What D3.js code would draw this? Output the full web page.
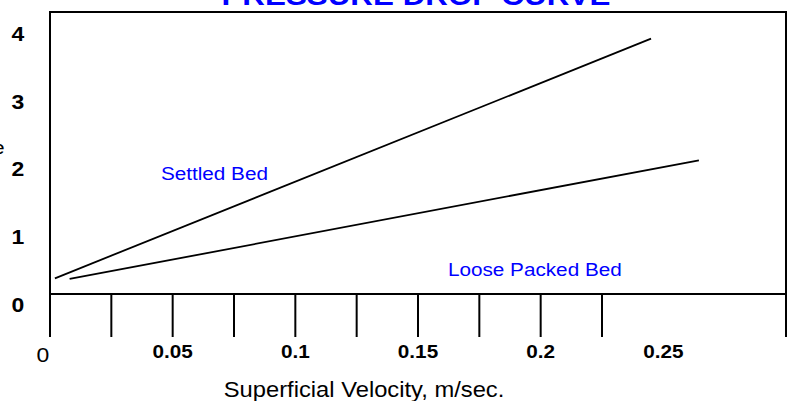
<!DOCTYPE html>
<html>
<head>
<meta charset="utf-8">
<script src="https://cdn.jsdelivr.net/npm/d3@7"></script>
<style>
  body { margin: 0; background: #fff; }
  svg { display: block; font-family: "Liberation Sans", Arial, sans-serif; }
</style>
</head>
<body>
<div id="chart"></div>
<script>
// chart data
const settledBed = [{ v: 0.002, dp: 0.231 }, { v: 0.245, dp: 3.757 }];
const loosePackedBed = [{ v: 0.008, dp: 0.221 }, { v: 0.2645, dp: 1.968 }];
const tickMarks = [0, 0.025, 0.05, 0.075, 0.1, 0.125, 0.15, 0.175, 0.2, 0.225, 0.3];
const xTickLabels = [0.05, 0.1, 0.15, 0.2, 0.25];
const yTickLabels = [0, 1, 2, 3, 4];
const annotations = [
  { text: 'Settled Bed', v: 0.0452, dp: 1.678 },
  { text: 'Loose Packed Bed', v: 0.1622, dp: 0.265 }
];

const width = 790, height = 401;
const margin = { top: 12, right: 4, bottom: 107, left: 50 };
const stretch = 1.12; // text in the source is a bit wide

const svg = d3.select('#chart').append('svg')
  .attr('width', width)
  .attr('height', height);

const x = d3.scaleLinear().domain([0, 0.3]).range([margin.left, width - margin.right]);
const y = d3.scaleLinear().domain([0, 4.15]).range([height - margin.bottom, margin.top]);

function addText(px, py, str, size, opts) {
  opts = opts || {};
  return svg.append('text')
    .attr('transform', `translate(${px},${py}) scale(${stretch},1)`)
    .attr('text-anchor', opts.anchor || 'start')
    .attr('font-size', size)
    .attr('font-weight', opts.bold ? 'bold' : 'normal')
    .attr('fill', opts.fill || '#000')
    .text(str);
}

// plot frame
svg.append('rect')
  .attr('x', x(0))
  .attr('y', y(4.15))
  .attr('width', x(0.3) - x(0))
  .attr('height', y(0) - y(4.15))
  .attr('fill', 'none')
  .attr('stroke', '#000')
  .attr('stroke-width', 2);

// tick marks hanging under the baseline
svg.selectAll('line.tick')
  .data(tickMarks)
  .enter().append('line')
    .attr('class', 'tick')
    .attr('x1', d => x(d))
    .attr('x2', d => x(d))
    .attr('y1', y(0))
    .attr('y2', y(0) + 43)
    .attr('stroke', '#000')
    .attr('stroke-width', 2);

// curves
const line = d3.line().x(d => x(d.v)).y(d => y(d.dp));
[settledBed, loosePackedBed].forEach(s => {
  svg.append('path')
    .attr('d', line(s))
    .attr('fill', 'none')
    .attr('stroke', '#000')
    .attr('stroke-width', 1.8);
});

// x labels
addText(x(0) - 7, y(0) + 68, '0', 20.5, { anchor: 'middle' });
xTickLabels.forEach(d => addText(x(d), y(0) + 63.5, String(d), 18.5, { anchor: 'middle', bold: true }));
addText(x(0.128), 397, 'Superficial Velocity, m/sec.', 21.2, { anchor: 'middle' });

// y labels
yTickLabels.forEach(d => addText(18, y(d) + 18.4, String(d), 20.5, { anchor: 'middle', bold: true }));
addText(4.5, 153.5, 'Pressure', 19, { anchor: 'end' });

// series annotations
annotations.forEach(a => addText(x(a.v), y(a.dp), a.text, 18.5, { fill: '#0000ff' }));

// title, mostly above the top edge
addText(416, 4.5, 'PRESSURE DROP CURVE', 28, { anchor: 'middle', bold: true, fill: '#0000ff' });
</script>
</body>
</html>
